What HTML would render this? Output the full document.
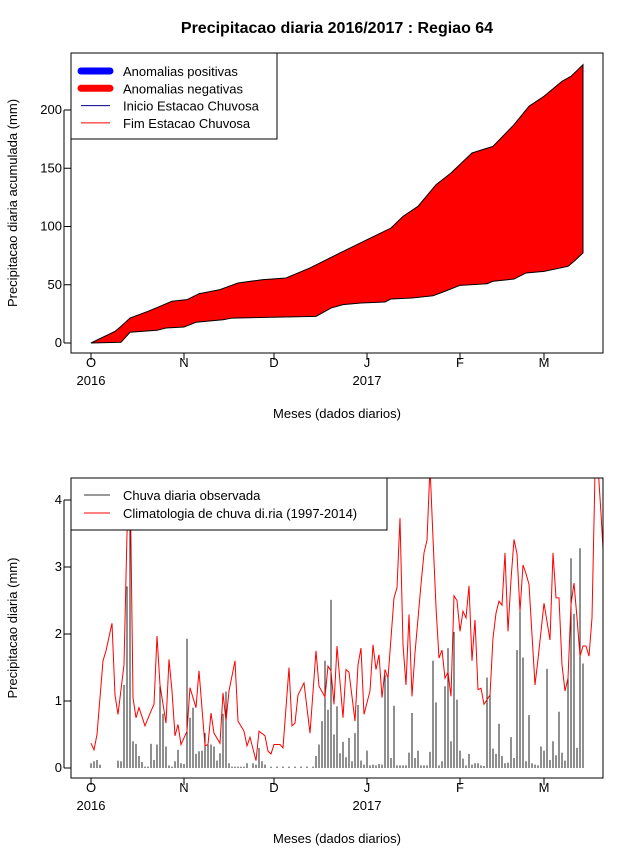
<!DOCTYPE html>
<html><head><meta charset="utf-8"><style>
body{margin:0;background:#fff}
svg{display:block;font-family:"Liberation Sans",sans-serif}
</style></head><body>
<svg id="c" width="640" height="850" xmlns="http://www.w3.org/2000/svg">
<text x="337" y="33" text-anchor="middle" font-size="16" font-weight="bold">Precipitacao diaria 2016/2017 : Regiao 64</text>
<g id="top"></g>
<g id="bot"></g>
</svg>
<script>
// Top panel data (cumulative, mm) sampled by day index since Oct 1
const upDays = [0,8,10,13,19,23,27,32,36,43,49,57,65,73,83,92,100,104,109,115,120,127,134,141,146,151,157,160,164];
const upVals = [0,10,14.3,21.4,27.2,31.5,35.8,37.2,42.3,45.8,51.5,54.3,55.8,64.4,77.3,88.7,98.7,108.7,117.3,135.9,145.9,163.1,168.8,187.4,203.2,211.8,224.6,228.9,238.9];
const loDays = [0,10,13,22,25,31,35,44,47,75,80,84,90,98,100,107,114,118,123,132,134,141,145,151,159,161,164];
const loVals = [0,0.6,9.2,10.9,12.9,13.7,17.8,20,21.4,22.9,30,32.9,34.3,35.2,37.8,38.6,40.6,44.4,49.5,50.9,53,54.9,60.1,61.5,65.8,70.1,77.3];
const yTicksTop = [0,50,100,150,200];
// Bottom panel data
const climDays = [0,1,2,4,5,7,8,9,11,12,13,14,15,16,18,20,21,22,23,25,26,27,28,29,30,32,33,35,36,38,39,40,41,43,44,45,46,48,49,51,52,53,55,56,58,59,60,61,63,64,66,67,68,69,71,73,75,76,78,79,80,81,82,84,85,86,88,89,90,91,93,94,95,96,97,98,99,101,102,103,104,105,106,107,108,110,111,112,113,114,115,116,117,118,119,120,121,122,123,124,125,126,127,128,129,130,131,133,134,135,136,137,138,139,140,141,142,143,144,145,146,148,149,151,153,154,155,156,157,158,159,160,161,162,163,164,165,166,167,168,169,170,171];
const climVals = [0.37,0.27,0.5,1.6,1.75,2.16,1.09,0.8,1.54,3.5,4.5,1.05,0.75,0.9,0.63,0.85,0.95,1.97,1.24,0.67,1.62,1.15,0.48,0.65,0.35,0.55,1.2,0.9,1.45,0.33,0.35,0.82,0.52,0.37,1.12,0.7,1.15,1.6,0.7,0.55,0.33,0.46,0.11,0.55,0.48,0.25,0.21,0.35,0.35,0.3,1.5,0.63,0.67,1.09,1.27,0.52,1.75,1.22,1.06,1.52,1.45,0.95,1.82,0.75,1.47,1.43,0.7,1.54,1.79,0.8,1.15,1.84,1.47,1.69,1.05,1.47,1.34,2.54,2.69,3.73,1.84,1.24,2.29,1.07,1.72,2.74,3.21,3.4,4.5,3.43,2.4,1.64,1.76,1.34,1.43,1.07,2.57,2.5,2.04,2.34,2.24,2.72,1.6,2.21,1.17,1.19,0.95,1.09,1.94,2.31,2.49,2.43,3.21,2.04,2.81,3.41,3.2,2.34,3.03,2.9,2.74,1.24,1.62,2.46,1.91,3.21,2.54,2.54,1.54,1.15,1.34,2.44,2.76,2.24,1.67,1.82,1.82,1.67,2.24,4.4,4.5,3.8,3.0];
const obsDays = [0,1,2,3,9,10,11,12,13,14,15,16,17,18,19,20,21,22,23,24,25,26,27,28,29,30,31,32,33,34,35,36,37,38,39,40,41,42,43,44,45,46,47,48,49,50,51,52,54,55,56,57,58,60,62,64,66,68,70,72,74,75,76,77,78,79,80,81,82,83,84,85,86,87,88,89,90,91,92,93,94,95,96,97,98,99,100,101,102,103,104,105,106,107,108,109,110,111,112,113,114,115,116,117,118,119,120,121,122,123,124,125,126,127,128,129,130,131,132,133,134,135,136,137,138,139,140,141,142,143,144,145,146,147,148,149,150,151,152,153,154,155,156,157,158,159,160,161,162,163,164];
const obsVals = [0.07,0.1,0.12,0.05,0.11,0.1,1.24,2.71,3.55,0.4,0.36,0.18,0.09,0.02,0.02,0.36,0.12,0.35,1.22,0.81,0.32,0.04,0.02,0.1,0.27,0.07,0.06,1.93,0.75,0.9,0.21,0.25,0.26,0.52,0.35,0.35,0.32,0.11,0.22,0.81,1.14,0.07,0.02,0.02,0.02,0.02,0.02,0.07,0.07,0.05,0.3,0.1,0.05,0.02,0.02,0.02,0.02,0.02,0.02,0.02,0.02,0.18,0.35,0.7,1.6,0.87,2.51,0.5,0.92,0.22,0.39,0.16,0.45,0.1,0.52,0.94,0.11,0.05,0.26,0.04,0.05,0.04,0.06,0.05,1.39,1.37,0.15,0.93,0.04,0.04,0.04,0.04,0.23,0.82,0.15,0.26,0.04,0.04,0.04,0.24,1.6,0.98,0.04,0.1,1.22,1.79,0.4,2.03,1.02,0.26,0.14,0.04,0.21,0.05,0.07,0.07,0.04,0.03,1.35,1.1,0.29,0.21,0.66,0.18,0.07,0.08,0.46,0.15,1.76,2.34,1.65,0.1,0.79,0.07,0.05,0.04,0.32,0.26,1.48,0.12,0.4,0.19,0.84,0.23,0.11,1.34,3.13,2.3,0.3,3.28,1.56];
const yTicksBot = [0,1,2,3,4];
const monthLabels = ['O','N','D','J','F','M'];
const monthDays = [0,31,61,92,123,151];

const NS='http://www.w3.org/2000/svg';
function mk(p,t,a){const e=document.createElementNS(NS,t);for(const k in a)e.setAttribute(k,a[k]);p.appendChild(e);return e;}
const xS=d=>91+3*d;
function axesCommon(g,top,bottom,yScale,ticks,ytitle){
  const r=mk(g,'rect',{x:71,y:top,width:532,height:bottom-top,fill:'none',stroke:'#000','stroke-width':1});
  
  ticks.forEach(v=>{const y=yScale(v);
    mk(g,'line',{x1:64,x2:71,y1:y,y2:y,stroke:'#000'});
    const t=mk(g,'text',{x:62,y:y+4,'text-anchor':'end','font-size':13});t.textContent=v;
    });
  mk(g,'line',{x1:64,x2:64,y1:yScale(ticks[0]),y2:yScale(ticks[ticks.length-1]),stroke:'#000'});
  mk(g,'line',{x1:xS(0),x2:xS(151),y1:bottom,y2:bottom,stroke:'#000'});
  monthDays.forEach((d,i)=>{const x=xS(d);
    mk(g,'line',{x1:x,x2:x,y1:bottom,y2:bottom+7,stroke:'#000'});
    const t=mk(g,'text',{x:x,y:bottom+14,'text-anchor':'middle','font-size':13});t.textContent=monthLabels[i];
    });
  [['2016',0],['2017',92]].forEach(([s,d])=>{const t=mk(g,'text',{x:xS(d),y:bottom+32,'text-anchor':'middle','font-size':13});t.textContent=s;
    });
  const xt=mk(g,'text',{x:337,y:bottom+65,'text-anchor':'middle','font-size':13});xt.textContent='Meses (dados diarios)';
  
  const cy=(top+bottom)/2;
  const yt=mk(g,'text',{x:17,y:cy,'text-anchor':'middle','font-size':13,transform:`rotate(-90 17 ${cy})`});yt.textContent=ytitle;
  
}
// TOP
const gt=document.getElementById('top');
const yT=v=>343-1.165*v;
let pts=upDays.map((d,i)=>xS(d)+','+yT(upVals[i]));
for(let i=loDays.length-1;i>=0;i--)pts.push(xS(loDays[i])+','+yT(loVals[i]));
const area=mk(gt,'polygon',{points:pts.join(' '),fill:'#ff0000',stroke:'#000','stroke-width':1});


axesCommon(gt,53,353,yT,yTicksTop,'Precipitacao diaria acumulada (mm)');
const lg=mk(gt,'g',{});


mk(lg,'rect',{x:71,y:53,width:206,height:86,fill:'#fff',stroke:'#000'});
[['Anomalias positivas','#0000ff',7],['Anomalias negativas','#ff0000',7],['Inicio Estacao Chuvosa','#00008b',1],['Fim Estacao Chuvosa','#ff0000',1]].forEach(([s,c,w],i)=>{
  const y=71+i*17.3;
  mk(lg,'line',{x1:81,x2:110,y1:y,y2:y,stroke:c,'stroke-width':w,'stroke-linecap':w>1?'round':'butt'});
  const t=mk(lg,'text',{x:123,y:y+5,'font-size':13});t.textContent=s;
  
});
// BOTTOM
const gb=document.getElementById('bot');
const yB=v=>768-67*v;
mk(gb,'clipPath',{id:'cp'}).appendChild(document.createElementNS(NS,'rect'));
const cr=document.querySelector('#cp rect');cr.setAttribute('x',71);cr.setAttribute('y',478);cr.setAttribute('width',532);cr.setAttribute('height',300);
obsDays.forEach((d,i)=>{
  const b=mk(gb,'line',{x1:xS(d),x2:xS(d),y1:768,y2:yB(obsVals[i]),stroke:'#222','stroke-width':1,'clip-path':'url(#cp)'});
  
  
});
const cl=mk(gb,'polyline',{points:climDays.map((d,i)=>xS(d)+','+yB(climVals[i])).join(' '),fill:'none',stroke:'#ff0000','stroke-width':1,'clip-path':'url(#cp)'});


axesCommon(gb,478,778,yB,yTicksBot,'Precipitacao diaria (mm)');
const lb=mk(gb,'g',{});


mk(lb,'rect',{x:71,y:478,width:316,height:52,fill:'#fff',stroke:'#000'});
[['Chuva diaria observada','#333'],['Climatologia de chuva di.ria (1997-2014)','#ff0000']].forEach(([s,c],i)=>{
  const y=495+i*18;
  mk(lb,'line',{x1:84,x2:110,y1:y,y2:y,stroke:c});
  const t=mk(lb,'text',{x:123,y:y+5,'font-size':13});t.textContent=s;
  
});
</script>
</body></html>
